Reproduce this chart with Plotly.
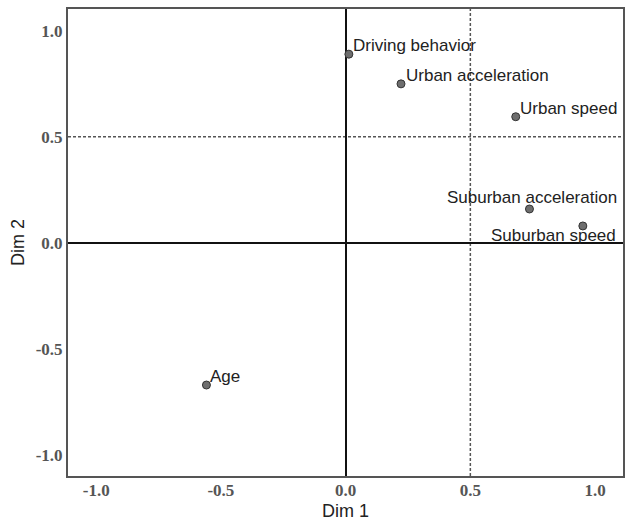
import plotly.graph_objects as go

# Data
labels = ["Driving behavior", "Urban acceleration", "Urban speed",
          "Suburban acceleration", "Suburban speed", "Age"]
dim1 = [0.013, 0.222, 0.682, 0.737, 0.951, -0.558]
dim2 = [0.889, 0.749, 0.594, 0.159, 0.079, -0.671]
tick_vals = [-1.0, -0.5, 0.0, 0.5, 1.0]
tick_text = ["-1.0", "-0.5", "0.0", "0.5", "1.0"]

# Label placement styles (xanchor, yanchor, xshift, yshift)
label_style = [
    ("left", "bottom", 2, -3),
    ("left", "bottom", 3, -3),
    ("left", "bottom", 2, -3),
    ("center", "bottom", 3, 0),
    ("right", "top", 35, 2),
    ("left", "bottom", 2, -3),
]

fig = go.Figure()
fig.add_trace(go.Scatter(
    x=dim1, y=dim2, mode="markers",
    marker=dict(size=8, color="#6e6e6e", line=dict(color="#333333", width=1)),
    hoverinfo="text", text=labels, showlegend=False,
))

for lab, xv, yv, (xa, ya, xs, ys) in zip(labels, dim1, dim2, label_style):
    fig.add_annotation(x=xv, y=yv, text=lab, showarrow=False,
                       xanchor=xa, yanchor=ya, xshift=xs, yshift=ys,
                       font=dict(family="Liberation Sans, Arial", size=17, color="#222222"))

# dashed reference lines at 0.5
fig.add_shape(type="line", xref="x", yref="paper", x0=0.5, x1=0.5, y0=0, y1=1,
              line=dict(color="#555555", width=1.5, dash="3px,2px"), layer="below")
fig.add_shape(type="line", xref="paper", yref="y", x0=0, x1=1, y0=0.5, y1=0.5,
              line=dict(color="#555555", width=1.5, dash="3px,2px"), layer="below")

tickfont = dict(family="Liberation Serif, Times New Roman", size=17, color="#555555",
                weight="bold")
titlefont = dict(family="Liberation Sans, Arial", size=18, color="#222222")

fig.update_xaxes(range=[-1.113, 1.112], tickvals=tick_vals, ticktext=tick_text,
                 showgrid=False, zeroline=True, zerolinecolor="#111111", zerolinewidth=2,
                 showline=True, mirror=True, linecolor="#555555", linewidth=2,
                 ticks="", tickfont=tickfont, automargin=False, ticklabelstandoff=-2,
                 title=dict(text="Dim 1", font=titlefont, standoff=7))
fig.update_yaxes(range=[-1.10, 1.102], tickvals=tick_vals, ticktext=tick_text,
                 showgrid=False, zeroline=True, zerolinecolor="#111111", zerolinewidth=2,
                 showline=True, mirror=True, linecolor="#555555", linewidth=2,
                 ticks="", tickfont=tickfont, automargin=False,
                 title=dict(text="Dim 2", font=titlefont, standoff=6))

fig.update_layout(
    width=630, height=521,
    margin=dict(l=68, r=7, t=9, b=45),
    plot_bgcolor="white", paper_bgcolor="white",
    font=dict(family="Liberation Sans, Arial"),
)

fig.write_html("out.html")
